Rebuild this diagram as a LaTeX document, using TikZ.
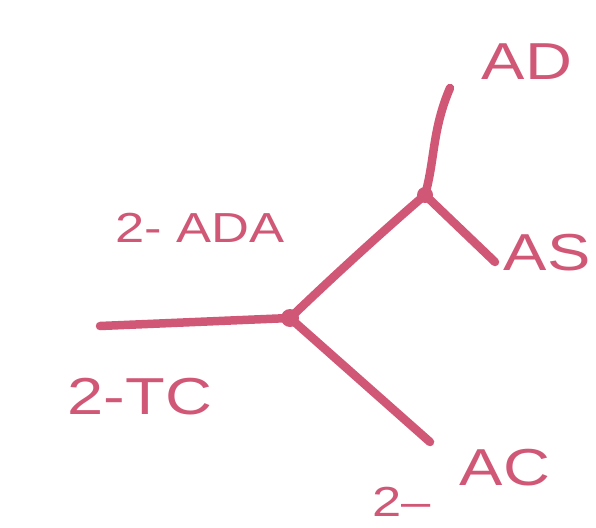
\documentclass[tikz,border=0pt]{standalone}
\usepackage{fontspec}
\setmainfont{Liberation Sans}
\definecolor{ink}{RGB}{208,88,118}
\begin{document}
\begin{tikzpicture}[x=1pt,y=-1pt,
  branch/.style={draw=ink,line width=8.5pt,line cap=round,line join=round},
  lbl/.style={text=ink,inner sep=0pt,font=\fontsize{52}{56}\selectfont,xscale=1.25},
  lbls/.style={text=ink,inner sep=0pt,font=\fontsize{42}{46}\selectfont,xscale=1.25}]
\useasboundingbox (0,0) rectangle (596,527);
\coordinate (L) at (100,326);
\coordinate (J1) at (290,318);
\coordinate (J2) at (425,195);
\coordinate (ADe) at (450,88);
\coordinate (ASe) at (495,262);
\coordinate (ACe) at (430,442);
\draw[branch] (L) -- (J1);
\draw[branch] (J1) .. controls (340,270) and (390,225) .. (J2);
\draw[branch] (J2) .. controls (435,160) and (432,130) .. (ADe);
\draw[branch] (J2) -- (ASe);
\draw[branch] (J1) -- (ACe);
\fill[ink] (J1) circle (9pt);
\fill[ink] (J2) circle (8pt);
\node[lbl] (AD) at (527,62) {AD};
\node[lbl] (AS) at (547,253) {AS};
\node[lbls] (ADA) at (200,228) {2- ADA};
\node[lbl] (TC) at (140,397) {2-TC};
\node[lbl] (AC) at (505,468) {AC};
\node[lbls] (two) at (402,502) {2–};
\end{tikzpicture}
\end{document}
